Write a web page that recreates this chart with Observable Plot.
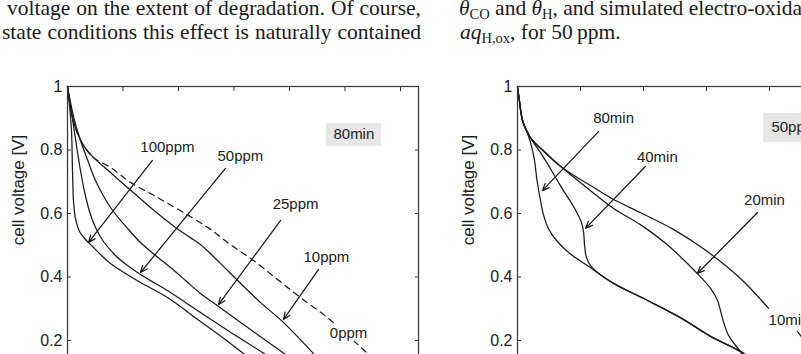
<!DOCTYPE html>
<html>
<head>
<meta charset="utf-8">
<script src="https://cdn.jsdelivr.net/npm/d3@7"></script>
<script src="https://cdn.jsdelivr.net/npm/@observablehq/plot@0.6"></script>
<style>
  html, body { margin: 0; padding: 0; background: #fff; }
  body { width: 801px; height: 354px; overflow: hidden; position: relative; }
  .line { position: absolute; white-space: nowrap; font-family: "Liberation Serif", "Times New Roman", serif;
          font-size: 21.5px; line-height: 25px; color: #1a1a1a; }
  .just { text-align: justify; text-align-last: justify; white-space: normal; }
  .line sub { font-size: 14.5px; vertical-align: -4px; line-height: 0; }
  .line i { font-style: italic; }
  .chart { position: absolute; top: 70px; }
  .chart svg { overflow: visible; max-width: none !important; }
</style>
</head>
<body>
<div class="line just" style="left:7px; top:-4px; width:414px;">voltage on the extent of degradation. Of course,</div>
<div class="line just" style="left:2px; top:20px; width:419px;">state conditions this effect is naturally contained</div>
<div class="line" style="left:459px; top:-4px;"><i>θ</i><sub>CO</sub> and <i>θ</i><sub>H</sub>, and simulated electro-oxidation</div>
<div class="line" style="left:460px; top:20px;"><i>aq</i><sub>H,ox</sub>, for 50&#8201;ppm.</div>
<div id="left" class="chart" style="left:0px;"></div>
<div id="right" class="chart" style="left:450px;"></div>
<script>
// Polarization curves after 80 min of CO exposure, one per CO concentration: [current, voltage]
const ppm100 = [[0,1],[0.0072,0.9402],[0.0144,0.8614],[0.018,0.7354],[0.0216,0.6409],[0.0288,0.5843],[0.0432,0.5433],[0.0649,0.5181],[0.0901,0.4961],[0.1189,0.4709],[0.155,0.4425],[0.209,0.411],[0.263,0.3827],[0.3604,0.3354],[0.4793,0.2598],[0.5586,0.2094],[0.6342,0.1591],[0.7135,0.1087]];
const ppm50  = [[0,1],[0.0108,0.9402],[0.0216,0.8772],[0.0324,0.8142],[0.0468,0.7354],[0.0613,0.6693],[0.0793,0.6063],[0.1009,0.5559],[0.1297,0.5118],[0.173,0.4677],[0.2162,0.4362],[0.263,0.4079],[0.3171,0.3795],[0.3712,0.3512],[0.4252,0.3197],[0.4793,0.2882],[0.5946,0.222],[0.7135,0.1559],[0.8036,0.1024]];
const ppm25  = [[0,1],[0.0108,0.9496],[0.0252,0.8929],[0.0468,0.8299],[0.0757,0.7606],[0.1009,0.7039],[0.155,0.6189],[0.2198,0.5496],[0.263,0.5087],[0.3171,0.4677],[0.3712,0.4299],[0.4252,0.389],[0.4793,0.348],[0.5441,0.3071],[0.6595,0.2346],[0.7856,0.1559],[0.8757,0.0992]];
const ppm10  = [[0,1],[0.007,0.956],[0.018,0.902],[0.032,0.861],[0.058,0.814],[0.094,0.776],[0.155,0.729],[0.216,0.682],[0.299,0.619],[0.389,0.556],[0.443,0.524],[0.479,0.502],[0.551,0.443],[0.613,0.389],[0.695,0.32],[0.778,0.257],[0.886,0.159],[0.948,0.099]];
const ppm0   = [[0,1],[0.007,0.956],[0.018,0.902],[0.032,0.861],[0.058,0.814],[0.094,0.776],[0.155,0.745],[0.227,0.698],[0.317,0.654],[0.418,0.603],[0.515,0.55],[0.587,0.502],[0.67,0.452],[0.757,0.392],[0.84,0.335],[0.937,0.272],[1.009,0.216],[1.081,0.159],[1.146,0.099]];

// Polarization curves at 50 ppm CO, one per exposure time: [current, voltage]
const min80 = [[0,1],[0.006,0.956],[0.016,0.893],[0.032,0.852],[0.044,0.814],[0.054,0.767],[0.062,0.704],[0.073,0.641],[0.083,0.594],[0.098,0.553],[0.124,0.515],[0.162,0.477],[0.222,0.436],[0.305,0.38],[0.413,0.326],[0.517,0.272],[0.613,0.213],[0.708,0.165],[0.771,0.121]];
const min40 = [[0,1],[0.006,0.956],[0.016,0.893],[0.041,0.839],[0.073,0.792],[0.095,0.757],[0.121,0.713],[0.146,0.672],[0.168,0.638],[0.19,0.6],[0.203,0.572],[0.21,0.54],[0.213,0.499],[0.219,0.461],[0.232,0.436],[0.254,0.414],[0.305,0.38],[0.413,0.326],[0.517,0.272],[0.613,0.213],[0.708,0.165],[0.771,0.121]];
const min20 = [[0,1],[0.006,0.956],[0.016,0.893],[0.041,0.839],[0.073,0.805],[0.114,0.767],[0.168,0.723],[0.232,0.672],[0.305,0.616],[0.39,0.565],[0.47,0.506],[0.571,0.411],[0.613,0.364],[0.635,0.326],[0.651,0.269],[0.67,0.216],[0.708,0.165],[0.746,0.118]];
const min10 = [[0,1],[0.006,0.956],[0.016,0.893],[0.041,0.839],[0.089,0.792],[0.146,0.742],[0.232,0.688],[0.305,0.644],[0.39,0.603],[0.495,0.55],[0.603,0.48],[0.708,0.395],[0.797,0.301]];

const ppmNames = ["100ppm", "50ppm", "25ppm", "10ppm", "0ppm"];
const minNames = ["80min", "40min", "20min", "10min"];

const H_UNIT = 317.5;
const xDomain = [0, 1.265];
const xTicks = d3.range(0, 1.21, 0.2);
const yTicks = d3.range(0, 1.01, 0.2);
const FONT = "Liberation Sans, Arial, Helvetica, sans-serif";
const INK = "#1a1a1a";

function frameMarks() {
  return [
    Plot.frame({stroke: "#333", strokeWidth: 1.2}),
    Plot.axisY(yTicks, {anchor: "left", tickSize: -4, tickPadding: 9, fontSize: 16, label: null, stroke: "#333",
      tickFormat: d => d === 1 ? "1" : d3.format(".1f")(d)}),
    Plot.axisY(yTicks, {anchor: "right", tickSize: -4, tickFormat: () => "", label: null, stroke: "#333"}),
    Plot.axisX(xTicks, {anchor: "top", tickSize: -4, tickFormat: () => "", label: null, stroke: "#333"}),
    Plot.axisX(xTicks, {anchor: "bottom", tickSize: -4, tickFormat: () => "", label: null, stroke: "#333"}),
    Plot.text(["cell voltage [V]"], {frameAnchor: "left", dx: -49, rotate: -90, fontSize: 17, fill: "#222", text: d => d})
  ];
}

function chart(el, unit, curves, extra) {
  const marginLeft = 67, marginTop = 16, marginRight = 12, marginBottom = 40;
  const plot = Plot.plot({
    width: marginLeft + unit * xDomain[1] + marginRight,
    height: marginTop + H_UNIT + marginBottom,
    marginLeft, marginTop, marginRight, marginBottom,
    style: {fontFamily: FONT, fontSize: "16px", color: "#222", background: "transparent"},
    x: {domain: xDomain},
    y: {domain: [0, 1]},
    marks: [...extra.boxes, ...curves, ...extra.arrows, ...extra.texts, ...frameMarks()]
  });
  document.getElementById(el).appendChild(plot);
}

const line = (data, dashed) => Plot.line(data, {x: d => d[0], y: d => d[1], curve: "catmull-rom",
  stroke: INK, strokeWidth: 1.25, strokeDasharray: dashed ? "6,5" : null});
const arrow = (a) => Plot.arrow([a], {x1: "x1", y1: "y1", x2: "x2", y2: "y2", stroke: INK, strokeWidth: 1.25, headLength: 9, headAngle: 45});
const label = (t, x, y, opts = {}) => Plot.text([t], {x: () => x, y: () => y, text: d => d, fontSize: 15, fill: "#222", ...opts});
const box = (x1, x2, y1, y2) => Plot.rect([0], {x1: () => x1, x2: () => x2, y1: () => y1, y2: () => y2, fill: "#e6e6e6"});

// Left: effect of CO concentration after 80 min
chart("left", 277.5, [
  line(ppm100), line(ppm50), line(ppm25), line(ppm10), line(ppm0, true)
], {
  boxes: [box(0.933, 1.132, 0.811, 0.883)],
  arrows: [
    arrow({x1: 0.306, y1: 0.767, x2: 0.076, y2: 0.509}),
    arrow({x1: 0.569, y1: 0.742, x2: 0.263, y2: 0.414}),
    arrow({x1: 0.768, y1: 0.578, x2: 0.544, y2: 0.313}),
    arrow({x1: 0.905, y1: 0.424, x2: 0.778, y2: 0.266})
  ],
  texts: [
    label(ppmNames[0], 0.360, 0.808), label(ppmNames[1], 0.623, 0.780), label(ppmNames[2], 0.822, 0.628),
    label(ppmNames[3], 0.933, 0.461), label(ppmNames[4], 1.013, 0.222, {stroke: "white", strokeWidth: 7}),
    label("80min", 1.032, 0.849)
  ]
});

// Right: effect of exposure time at 50 ppm
chart("right", 315, [
  line(min80), line(min40), line(min20), line(min10)
], {
  boxes: [box(0.781, 1.14, 0.824, 0.915)],
  arrows: [
    arrow({x1: 0.257, y1: 0.858, x2: 0.079, y2: 0.672}),
    arrow({x1: 0.406, y1: 0.748, x2: 0.216, y2: 0.553}),
    arrow({x1: 0.762, y1: 0.603, x2: 0.571, y2: 0.411}),
    arrow({x1: 0.889, y1: 0.228, x2: 0.946, y2: 0.153})
  ],
  texts: [
    label(minNames[0], 0.305, 0.899), label(minNames[1], 0.444, 0.777), label(minNames[2], 0.784, 0.641),
    label(minNames[3], 0.797, 0.263, {textAnchor: "start"}), label("50ppm", 0.806, 0.871, {textAnchor: "start"})
  ]
});
</script>
</body>
</html>
